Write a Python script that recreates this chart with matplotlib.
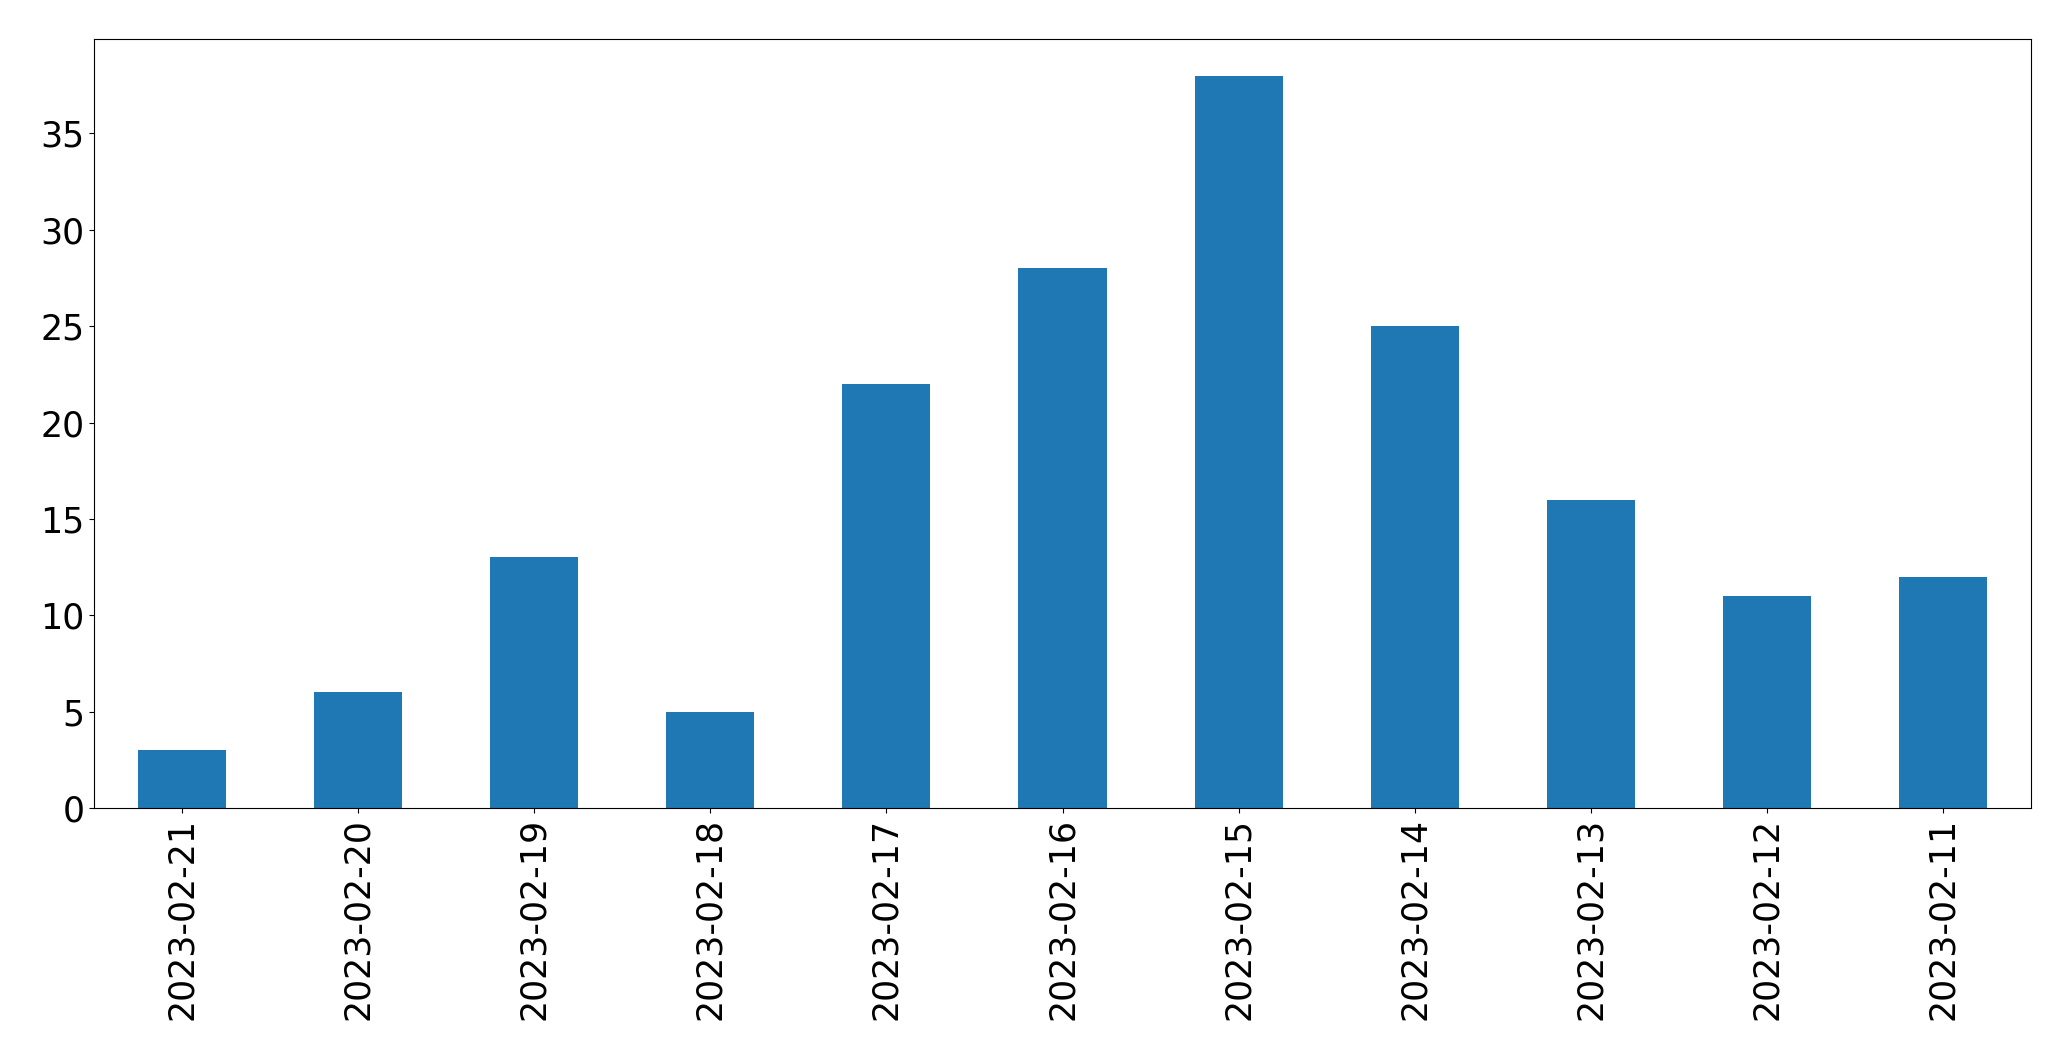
import matplotlib
matplotlib.use("Agg")
import matplotlib.pyplot as plt
import pandas as pd

dates = ["2023-02-21", "2023-02-20", "2023-02-19", "2023-02-18", "2023-02-17",
         "2023-02-16", "2023-02-15", "2023-02-14", "2023-02-13", "2023-02-12", "2023-02-11"]
counts = [3, 6, 13, 5, 22, 28, 38, 25, 16, 11, 12]

s = pd.Series(counts, index=dates)
fig = plt.figure(figsize=(20.71, 10.61), dpi=100)
ax = fig.add_axes([94/2071, 1 - 808/1061, (2031-94)/2071, (808-39)/1061])
s.plot(kind="bar", ax=ax, color="#1f77b4")
ax.tick_params(axis="both", labelsize=25)
fig.savefig("out.png", dpi=100)
